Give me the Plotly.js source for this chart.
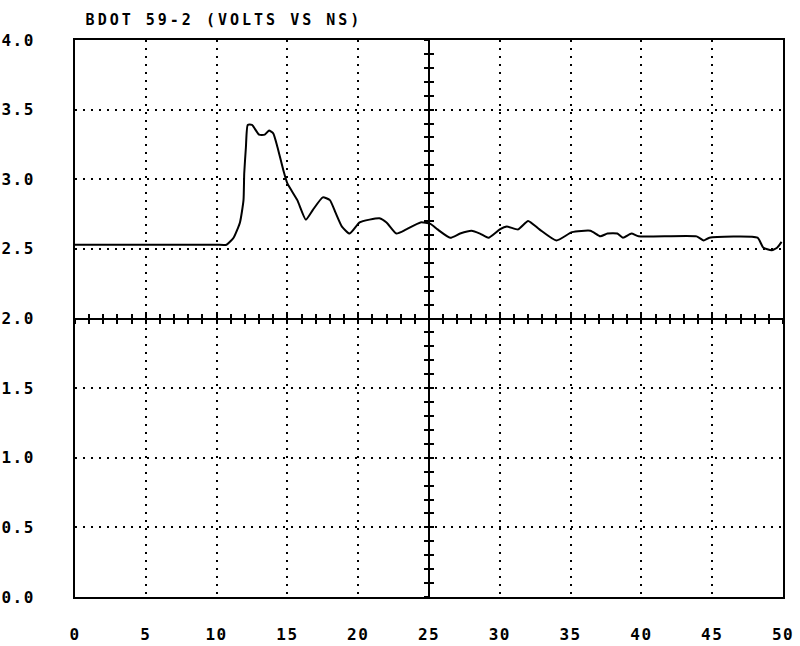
<!DOCTYPE html>
<html>
<head>
<meta charset="utf-8">
<script src="https://cdn.plot.ly/plotly-3.0.1.min.js"></script>
<style>
  html, body { margin: 0; padding: 0; background: #fff; }
  #chart { width: 800px; height: 646px; }
  .gtitle { letter-spacing: 3px; }
  .xtick text, .ytick text { letter-spacing: 1.5px; }
</style>
</head>
<body>
<div id="chart"></div>
<script>
// Time in ns
const timeNs = [0, 5, 10, 10.7, 11.2, 11.65, 11.9, 11.95, 12.07, 12.2, 12.5, 13.0, 13.4, 13.7, 14.0, 14.3, 14.7, 15.0, 15.7, 16.3, 16.8, 17.5, 18.0, 18.4, 18.85, 19.4, 20.1, 20.8, 21.5, 22.0, 22.7, 23.4, 24.4, 25.1, 25.6, 26.5, 27.2, 28.0, 28.6, 29.2, 30.0, 30.5, 31.3, 32.0, 32.8, 34.0, 35.1, 36.4, 37.1, 37.6, 38.3, 38.7, 39.3, 39.8, 43.9, 44.4, 44.8, 48.2, 48.6, 49.2, 49.6, 49.9];
// Signal in volts
const volts = [2.53, 2.53, 2.53, 2.53, 2.58, 2.69, 2.85, 3.04, 3.23, 3.39, 3.39, 3.32, 3.32, 3.35, 3.33, 3.23, 3.07, 2.97, 2.85, 2.71, 2.78, 2.87, 2.85, 2.76, 2.66, 2.61, 2.69, 2.71, 2.72, 2.69, 2.61, 2.64, 2.69, 2.68, 2.64, 2.58, 2.61, 2.63, 2.61, 2.58, 2.64, 2.66, 2.64, 2.70, 2.64, 2.56, 2.62, 2.63, 2.59, 2.61, 2.61, 2.58, 2.61, 2.59, 2.59, 2.56, 2.58, 2.58, 2.51, 2.49, 2.51, 2.55];

const xTickVals = [0, 5, 10, 15, 20, 25, 30, 35, 40, 45, 50];
const yTickVals = [0, 0.5, 1, 1.5, 2, 2.5, 3, 3.5, 4];
const yTickText = ['0.0', '0.5', '1.0', '1.5', '2.0', '2.5', '3.0', '3.5', '4.0'];
const titleText = 'BDOT 59-2 (VOLTS VS NS)';

const mono = 'DejaVu Sans Mono, monospace';

const traces = [
  { x: timeNs, y: volts, type: 'scatter', mode: 'lines',
    line: { color: '#000', width: 2, shape: 'spline', smoothing: 0.5 }, xaxis: 'x', yaxis: 'y', hoverinfo: 'skip' },
  { x: [], y: [], type: 'scatter', mode: 'lines', xaxis: 'x2', yaxis: 'y' },
  { x: [], y: [], type: 'scatter', mode: 'lines', xaxis: 'x3', yaxis: 'y' },
  { x: [], y: [], type: 'scatter', mode: 'lines', xaxis: 'x', yaxis: 'y2' },
  { x: [], y: [], type: 'scatter', mode: 'lines', xaxis: 'x', yaxis: 'y3' }
];

const crossX = (ticks) => ({
  overlaying: 'x', anchor: 'free', position: 0.5, range: [0, 50], fixedrange: true,
  showline: true, linecolor: '#000', linewidth: 2, showgrid: false, zeroline: false,
  ticks: ticks, ticklen: 4, tickwidth: 2, tickcolor: '#000', dtick: 1, tick0: 0,
  showticklabels: false
});
const crossY = (ticks) => ({
  overlaying: 'y', anchor: 'free', position: 0.5, range: [0, 4], fixedrange: true,
  showline: true, linecolor: '#000', linewidth: 2, showgrid: false, zeroline: false,
  ticks: ticks, ticklen: 4, tickwidth: 2, tickcolor: '#000', dtick: 0.1, tick0: 0,
  showticklabels: false
});

const tickFont = { family: mono, size: 16, color: '#000', weight: 'bold' };

const layout = {
  width: 800, height: 646,
  margin: { l: 75, r: 17, t: 40, b: 49 },
  paper_bgcolor: '#fff', plot_bgcolor: '#fff',
  showlegend: false,
  font: { family: mono, size: 15, color: '#000' },
  title: { text: titleText, font: { family: mono, size: 15, color: '#000', weight: 'bold' },
           xref: 'paper', x: 0.015, xanchor: 'left', yref: 'container', y: 0.969, yanchor: 'middle' },
  xaxis: {
    range: [0, 50], fixedrange: true,
    tickmode: 'array', tickvals: xTickVals, ticktext: xTickVals.map(String),
    ticks: '', ticklabelstandoff: 22,
    showline: true, mirror: true, linecolor: '#000', linewidth: 2,
    showgrid: true, gridcolor: '#000', griddash: '2px,6px', gridwidth: 2, zeroline: false,
    tickfont: tickFont
  },
  yaxis: {
    range: [0, 4], fixedrange: true,
    tickmode: 'array', tickvals: yTickVals, ticktext: yTickText,
    ticks: '', ticklabelstandoff: 35,
    showline: true, mirror: true, linecolor: '#000', linewidth: 2,
    showgrid: true, gridcolor: '#000', griddash: '2px,6px', gridwidth: 2, zeroline: false,
    tickfont: tickFont
  },
  xaxis2: crossX('outside'),
  xaxis3: crossX('inside'),
  yaxis2: crossY('outside'),
  yaxis3: crossY('inside')
};

Plotly.newPlot('chart', traces, layout, { staticPlot: true, displayModeBar: false });
</script>
</body>
</html>
